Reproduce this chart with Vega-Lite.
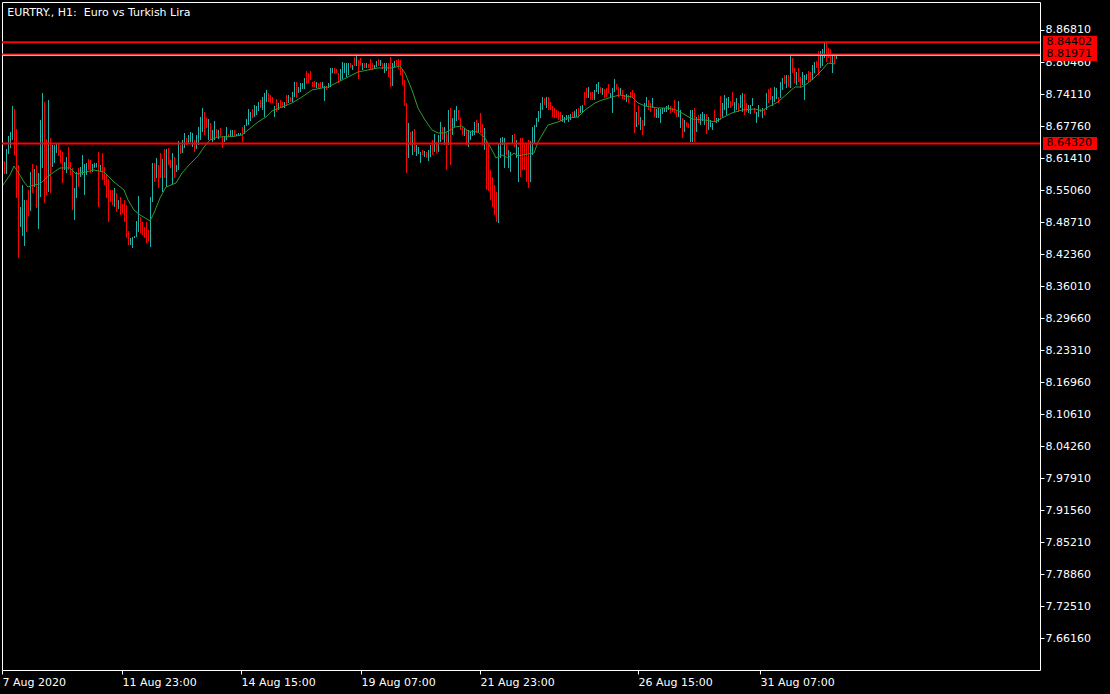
{
"$schema":"https://vega.github.io/schema/vega-lite/v6.json",
"width":1038,"height":668,"autosize":{"type":"none"},
"padding":{"left":2,"top":2,"right":70,"bottom":24},
"background":"#000000",
"config":{"view":{"stroke":"#ffffff","strokeWidth":1},"axis":{"grid":false,"domain":false,"title":null,"labelOverlap":false,"labelSeparation":0}},
"datasets":{
"bars":[
{"i":1,"h":8.6083,"l":8.5826,"d":"dn"},{"i":2,"h":8.6321,"l":8.5826,"d":"up"},{"i":3,"h":8.6579,"l":8.6222,"d":"up"},{"i":4,"h":8.6658,"l":8.6341,"d":"up"},{"i":5,"h":8.7174,"l":8.65,"d":"up"},{"i":6,"h":8.7115,"l":8.6202,"d":"dn"},{"i":7,"h":8.6718,"l":8.535,"d":"dn"},{"i":8,"h":8.6004,"l":8.416,"d":"dn"},{"i":9,"h":8.5171,"l":8.4775,"d":"up"},{"i":10,"h":8.5608,"l":8.4596,"d":"up"},
{"i":11,"h":8.531,"l":8.4398,"d":"up"},{"i":12,"h":8.531,"l":8.4675,"d":"dn"},{"i":13,"h":8.5508,"l":8.4993,"d":"dn"},{"i":14,"h":8.5865,"l":8.5092,"d":"up"},{"i":15,"h":8.6024,"l":8.5449,"d":"dn"},{"i":16,"h":8.5925,"l":8.5568,"d":"up"},{"i":17,"h":8.6004,"l":8.5151,"d":"dn"},{"i":18,"h":8.5845,"l":8.4735,"d":"up"},{"i":19,"h":8.6896,"l":8.537,"d":"up"},{"i":20,"h":8.7432,"l":8.5945,"d":"up"},
{"i":21,"h":8.7253,"l":8.525,"d":"dn"},{"i":22,"h":8.652,"l":8.5409,"d":"dn"},{"i":23,"h":8.7293,"l":8.5469,"d":"up"},{"i":24,"h":8.654,"l":8.5449,"d":"dn"},{"i":25,"h":8.6401,"l":8.5964,"d":"up"},{"i":26,"h":8.6401,"l":8.6044,"d":"up"},{"i":27,"h":8.6421,"l":8.6242,"d":"up"},{"i":28,"h":8.6421,"l":8.6183,"d":"dn"},{"i":29,"h":8.6301,"l":8.6044,"d":"dn"},{"i":30,"h":8.6262,"l":8.5647,"d":"dn"},
{"i":31,"h":8.6063,"l":8.5905,"d":"up"},{"i":32,"h":8.6163,"l":8.5845,"d":"up"},{"i":33,"h":8.6361,"l":8.5905,"d":"dn"},{"i":34,"h":8.6063,"l":8.5806,"d":"dn"},{"i":35,"h":8.5945,"l":8.5112,"d":"dn"},{"i":36,"h":8.5548,"l":8.4913,"d":"up"},{"i":37,"h":8.5865,"l":8.535,"d":"up"},{"i":38,"h":8.5945,"l":8.5568,"d":"dn"},{"i":39,"h":8.5964,"l":8.5766,"d":"up"},{"i":40,"h":8.6202,"l":8.5806,"d":"up"},
{"i":41,"h":8.6024,"l":8.5409,"d":"up"},{"i":42,"h":8.6044,"l":8.5806,"d":"up"},{"i":43,"h":8.6123,"l":8.5905,"d":"dn"},{"i":44,"h":8.6103,"l":8.5845,"d":"dn"},{"i":45,"h":8.6024,"l":8.5865,"d":"up"},{"i":46,"h":8.6044,"l":8.5945,"d":"up"},{"i":47,"h":8.6044,"l":8.5955,"d":"up"},{"i":48,"h":8.6262,"l":8.5171,"d":"dn"},{"i":49,"h":8.6004,"l":8.5865,"d":"up"},{"i":50,"h":8.6242,"l":8.5707,"d":"dn"},
{"i":51,"h":8.5964,"l":8.5608,"d":"dn"},{"i":52,"h":8.5826,"l":8.535,"d":"dn"},{"i":53,"h":8.5726,"l":8.4874,"d":"dn"},{"i":54,"h":8.5508,"l":8.527,"d":"dn"},{"i":55,"h":8.5508,"l":8.5211,"d":"dn"},{"i":56,"h":8.5548,"l":8.5171,"d":"up"},{"i":57,"h":8.5449,"l":8.5072,"d":"dn"},{"i":58,"h":8.531,"l":8.5131,"d":"up"},{"i":59,"h":8.537,"l":8.5013,"d":"dn"},{"i":60,"h":8.5231,"l":8.5052,"d":"dn"},
{"i":61,"h":8.531,"l":8.4874,"d":"dn"},{"i":62,"h":8.5211,"l":8.4556,"d":"dn"},{"i":63,"h":8.4695,"l":8.4418,"d":"dn"},{"i":64,"h":8.4556,"l":8.4418,"d":"up"},{"i":65,"h":8.4576,"l":8.4358,"d":"up"},{"i":66,"h":8.4596,"l":8.4556,"d":"up"},{"i":67,"h":8.4894,"l":8.4576,"d":"up"},{"i":68,"h":8.5389,"l":8.4675,"d":"up"},{"i":69,"h":8.4973,"l":8.4655,"d":"dn"},{"i":70,"h":8.4874,"l":8.4616,"d":"dn"},
{"i":71,"h":8.4775,"l":8.4556,"d":"dn"},{"i":72,"h":8.4874,"l":8.4457,"d":"dn"},{"i":73,"h":8.4715,"l":8.4497,"d":"dn"},{"i":74,"h":8.537,"l":8.4378,"d":"up"},{"i":75,"h":8.6044,"l":8.527,"d":"up"},{"i":76,"h":8.6044,"l":8.5667,"d":"dn"},{"i":77,"h":8.6143,"l":8.5746,"d":"up"},{"i":78,"h":8.6004,"l":8.5548,"d":"dn"},{"i":79,"h":8.6242,"l":8.5746,"d":"dn"},{"i":80,"h":8.6123,"l":8.5469,"d":"up"},
{"i":81,"h":8.6321,"l":8.5746,"d":"dn"},{"i":82,"h":8.6321,"l":8.5568,"d":"up"},{"i":83,"h":8.6341,"l":8.6004,"d":"dn"},{"i":84,"h":8.6103,"l":8.5945,"d":"dn"},{"i":85,"h":8.6242,"l":8.5608,"d":"up"},{"i":86,"h":8.6163,"l":8.5746,"d":"dn"},{"i":87,"h":8.6004,"l":8.5865,"d":"up"},{"i":88,"h":8.648,"l":8.5905,"d":"up"},{"i":89,"h":8.6401,"l":8.6222,"d":"dn"},{"i":90,"h":8.65,"l":8.6242,"d":"up"},
{"i":91,"h":8.6639,"l":8.6341,"d":"up"},{"i":92,"h":8.654,"l":8.6401,"d":"dn"},{"i":93,"h":8.6599,"l":8.644,"d":"up"},{"i":94,"h":8.6658,"l":8.646,"d":"up"},{"i":95,"h":8.6639,"l":8.6361,"d":"up"},{"i":96,"h":8.65,"l":8.6262,"d":"dn"},{"i":97,"h":8.6599,"l":8.6321,"d":"up"},{"i":98,"h":8.6758,"l":8.6401,"d":"up"},{"i":99,"h":8.6956,"l":8.65,"d":"up"},{"i":100,"h":8.7134,"l":8.6658,"d":"up"},
{"i":101,"h":8.7055,"l":8.6599,"d":"dn"},{"i":102,"h":8.6936,"l":8.6738,"d":"dn"},{"i":103,"h":8.6916,"l":8.65,"d":"up"},{"i":104,"h":8.6837,"l":8.65,"d":"dn"},{"i":105,"h":8.6698,"l":8.646,"d":"up"},{"i":106,"h":8.6876,"l":8.65,"d":"up"},{"i":107,"h":8.6718,"l":8.6559,"d":"dn"},{"i":108,"h":8.6698,"l":8.652,"d":"up"},{"i":109,"h":8.6737,"l":8.6579,"d":"dn"},{"i":110,"h":8.6579,"l":8.6341,"d":"dn"},
{"i":111,"h":8.6579,"l":8.646,"d":"up"},{"i":112,"h":8.6757,"l":8.65,"d":"up"},{"i":113,"h":8.6619,"l":8.6559,"d":"dn"},{"i":114,"h":8.6698,"l":8.6559,"d":"up"},{"i":115,"h":8.6698,"l":8.6579,"d":"up"},{"i":116,"h":8.6698,"l":8.6559,"d":"dn"},{"i":117,"h":8.6619,"l":8.6579,"d":"up"},{"i":118,"h":8.6639,"l":8.6579,"d":"up"},{"i":119,"h":8.6639,"l":8.6599,"d":"up"},{"i":120,"h":8.6757,"l":8.646,"d":"dn"},
{"i":121,"h":8.6797,"l":8.6619,"d":"up"},{"i":122,"h":8.6916,"l":8.6777,"d":"up"},{"i":123,"h":8.7115,"l":8.6797,"d":"up"},{"i":124,"h":8.7055,"l":8.6876,"d":"up"},{"i":125,"h":8.7115,"l":8.6936,"d":"dn"},{"i":126,"h":8.7194,"l":8.6956,"d":"up"},{"i":127,"h":8.7174,"l":8.6995,"d":"up"},{"i":128,"h":8.7253,"l":8.7075,"d":"up"},{"i":129,"h":8.7293,"l":8.7134,"d":"dn"},{"i":130,"h":8.7353,"l":8.7095,"d":"up"},
{"i":131,"h":8.7432,"l":8.6956,"d":"up"},{"i":132,"h":8.7491,"l":8.7253,"d":"up"},{"i":133,"h":8.7432,"l":8.7253,"d":"dn"},{"i":134,"h":8.7392,"l":8.7234,"d":"dn"},{"i":135,"h":8.7353,"l":8.7234,"d":"dn"},{"i":136,"h":8.7174,"l":8.6956,"d":"up"},{"i":137,"h":8.7313,"l":8.7055,"d":"dn"},{"i":138,"h":8.7234,"l":8.7095,"d":"up"},{"i":139,"h":8.7293,"l":8.7134,"d":"dn"},{"i":140,"h":8.7253,"l":8.7134,"d":"dn"},
{"i":141,"h":8.7253,"l":8.7134,"d":"up"},{"i":142,"h":8.7392,"l":8.7174,"d":"dn"},{"i":143,"h":8.7392,"l":8.7234,"d":"up"},{"i":144,"h":8.7353,"l":8.7253,"d":"dn"},{"i":145,"h":8.7452,"l":8.7253,"d":"up"},{"i":146,"h":8.765,"l":8.7353,"d":"up"},{"i":147,"h":8.765,"l":8.7333,"d":"dn"},{"i":148,"h":8.7551,"l":8.7432,"d":"up"},{"i":149,"h":8.763,"l":8.7452,"d":"up"},{"i":150,"h":8.763,"l":8.7511,"d":"up"},
{"i":151,"h":8.7729,"l":8.7511,"d":"up"},{"i":152,"h":8.7868,"l":8.761,"d":"dn"},{"i":153,"h":8.7828,"l":8.763,"d":"dn"},{"i":154,"h":8.7868,"l":8.769,"d":"dn"},{"i":155,"h":8.765,"l":8.7551,"d":"dn"},{"i":156,"h":8.767,"l":8.7551,"d":"dn"},{"i":157,"h":8.765,"l":8.7531,"d":"up"},{"i":158,"h":8.763,"l":8.7531,"d":"dn"},{"i":159,"h":8.765,"l":8.7531,"d":"dn"},{"i":160,"h":8.765,"l":8.7531,"d":"up"},
{"i":161,"h":8.7571,"l":8.7273,"d":"up"},{"i":162,"h":8.7571,"l":8.7491,"d":"dn"},{"i":163,"h":8.763,"l":8.7531,"d":"up"},{"i":164,"h":8.7928,"l":8.7551,"d":"up"},{"i":165,"h":8.7928,"l":8.7828,"d":"up"},{"i":166,"h":8.7928,"l":8.7809,"d":"dn"},{"i":167,"h":8.7908,"l":8.7828,"d":"dn"},{"i":168,"h":8.7828,"l":8.763,"d":"dn"},{"i":169,"h":8.7908,"l":8.767,"d":"up"},{"i":170,"h":8.8047,"l":8.771,"d":"up"},
{"i":171,"h":8.8027,"l":8.7828,"d":"up"},{"i":172,"h":8.8027,"l":8.7749,"d":"up"},{"i":173,"h":8.8027,"l":8.7789,"d":"up"},{"i":174,"h":8.8027,"l":8.7928,"d":"dn"},{"i":175,"h":8.7987,"l":8.7888,"d":"up"},{"i":176,"h":8.8146,"l":8.7967,"d":"dn"},{"i":177,"h":8.8186,"l":8.7967,"d":"up"},{"i":178,"h":8.8086,"l":8.771,"d":"dn"},{"i":179,"h":8.8126,"l":8.7987,"d":"dn"},{"i":180,"h":8.8027,"l":8.7888,"d":"up"},
{"i":181,"h":8.8027,"l":8.7928,"d":"dn"},{"i":182,"h":8.8027,"l":8.7928,"d":"up"},{"i":183,"h":8.8007,"l":8.7928,"d":"dn"},{"i":184,"h":8.8106,"l":8.7908,"d":"dn"},{"i":185,"h":8.8027,"l":8.7888,"d":"dn"},{"i":186,"h":8.7987,"l":8.7908,"d":"up"},{"i":187,"h":8.8067,"l":8.7947,"d":"up"},{"i":188,"h":8.8106,"l":8.7967,"d":"dn"},{"i":189,"h":8.8086,"l":8.7967,"d":"up"},{"i":190,"h":8.8027,"l":8.7908,"d":"dn"},
{"i":191,"h":8.8027,"l":8.7828,"d":"up"},{"i":192,"h":8.8027,"l":8.7868,"d":"up"},{"i":193,"h":8.8027,"l":8.7749,"d":"dn"},{"i":194,"h":8.8146,"l":8.7551,"d":"dn"},{"i":195,"h":8.8027,"l":8.7571,"d":"up"},{"i":196,"h":8.8067,"l":8.7947,"d":"up"},{"i":197,"h":8.8086,"l":8.7967,"d":"dn"},{"i":198,"h":8.8106,"l":8.7908,"d":"dn"},{"i":199,"h":8.8086,"l":8.7789,"d":"dn"},{"i":200,"h":8.7888,"l":8.759,"d":"dn"},
{"i":201,"h":8.769,"l":8.7174,"d":"dn"},{"i":202,"h":8.7234,"l":8.5845,"d":"dn"},{"i":203,"h":8.6837,"l":8.6143,"d":"up"},{"i":204,"h":8.6658,"l":8.6401,"d":"dn"},{"i":205,"h":8.6678,"l":8.6202,"d":"up"},{"i":206,"h":8.6718,"l":8.6262,"d":"dn"},{"i":207,"h":8.6401,"l":8.6183,"d":"up"},{"i":208,"h":8.6361,"l":8.6222,"d":"up"},{"i":209,"h":8.6262,"l":8.6044,"d":"up"},{"i":210,"h":8.6301,"l":8.6202,"d":"dn"},
{"i":211,"h":8.6282,"l":8.6163,"d":"up"},{"i":212,"h":8.6262,"l":8.6143,"d":"dn"},{"i":213,"h":8.6301,"l":8.6083,"d":"up"},{"i":214,"h":8.6401,"l":8.6163,"d":"up"},{"i":215,"h":8.65,"l":8.6202,"d":"dn"},{"i":216,"h":8.6619,"l":8.6262,"d":"up"},{"i":217,"h":8.646,"l":8.6242,"d":"dn"},{"i":218,"h":8.6599,"l":8.6262,"d":"up"},{"i":219,"h":8.6857,"l":8.646,"d":"up"},{"i":220,"h":8.6757,"l":8.65,"d":"dn"},
{"i":221,"h":8.6757,"l":8.6401,"d":"up"},{"i":222,"h":8.6639,"l":8.5905,"d":"dn"},{"i":223,"h":8.7095,"l":8.6401,"d":"up"},{"i":224,"h":8.7134,"l":8.6004,"d":"dn"},{"i":225,"h":8.6936,"l":8.6599,"d":"up"},{"i":226,"h":8.7095,"l":8.6757,"d":"up"},{"i":227,"h":8.7174,"l":8.6876,"d":"up"},{"i":228,"h":8.7095,"l":8.6896,"d":"dn"},{"i":229,"h":8.6936,"l":8.6698,"d":"dn"},{"i":230,"h":8.6757,"l":8.6599,"d":"dn"},
{"i":231,"h":8.6737,"l":8.6579,"d":"up"},{"i":232,"h":8.6698,"l":8.6401,"d":"dn"},{"i":233,"h":8.6698,"l":8.6361,"d":"up"},{"i":234,"h":8.6658,"l":8.65,"d":"up"},{"i":235,"h":8.6698,"l":8.6579,"d":"up"},{"i":236,"h":8.6857,"l":8.6599,"d":"up"},{"i":237,"h":8.6896,"l":8.6639,"d":"dn"},{"i":238,"h":8.6837,"l":8.6639,"d":"up"},{"i":239,"h":8.7035,"l":8.6639,"d":"dn"},{"i":240,"h":8.6817,"l":8.6401,"d":"dn"},
{"i":241,"h":8.6737,"l":8.6301,"d":"up"},{"i":242,"h":8.648,"l":8.5508,"d":"dn"},{"i":243,"h":8.6401,"l":8.5489,"d":"dn"},{"i":244,"h":8.5905,"l":8.531,"d":"dn"},{"i":245,"h":8.5766,"l":8.5171,"d":"dn"},{"i":246,"h":8.5608,"l":8.5013,"d":"dn"},{"i":247,"h":8.5469,"l":8.4874,"d":"dn"},{"i":248,"h":8.644,"l":8.4854,"d":"up"},{"i":249,"h":8.654,"l":8.6143,"d":"up"},{"i":250,"h":8.6559,"l":8.6401,"d":"up"},
{"i":251,"h":8.654,"l":8.5945,"d":"up"},{"i":252,"h":8.644,"l":8.6202,"d":"dn"},{"i":253,"h":8.6301,"l":8.5945,"d":"up"},{"i":254,"h":8.6262,"l":8.5865,"d":"up"},{"i":255,"h":8.6599,"l":8.644,"d":"up"},{"i":256,"h":8.6619,"l":8.6361,"d":"dn"},{"i":257,"h":8.65,"l":8.6143,"d":"up"},{"i":258,"h":8.6361,"l":8.5667,"d":"up"},{"i":259,"h":8.654,"l":8.5766,"d":"dn"},{"i":260,"h":8.654,"l":8.5905,"d":"dn"},
{"i":261,"h":8.644,"l":8.5905,"d":"dn"},{"i":262,"h":8.644,"l":8.5667,"d":"dn"},{"i":263,"h":8.65,"l":8.5548,"d":"dn"},{"i":264,"h":8.648,"l":8.5667,"d":"up"},{"i":265,"h":8.6757,"l":8.6202,"d":"up"},{"i":266,"h":8.6797,"l":8.644,"d":"up"},{"i":267,"h":8.6936,"l":8.6757,"d":"up"},{"i":268,"h":8.7075,"l":8.6857,"d":"up"},{"i":269,"h":8.7234,"l":8.6936,"d":"up"},{"i":270,"h":8.7353,"l":8.7095,"d":"up"},
{"i":271,"h":8.7333,"l":8.7194,"d":"dn"},{"i":272,"h":8.7353,"l":8.7134,"d":"up"},{"i":273,"h":8.7353,"l":8.7095,"d":"dn"},{"i":274,"h":8.7253,"l":8.7095,"d":"dn"},{"i":275,"h":8.7174,"l":8.6956,"d":"dn"},{"i":276,"h":8.7134,"l":8.6936,"d":"dn"},{"i":277,"h":8.7095,"l":8.6936,"d":"dn"},{"i":278,"h":8.7075,"l":8.6896,"d":"dn"},{"i":279,"h":8.7055,"l":8.6876,"d":"dn"},{"i":280,"h":8.6995,"l":8.6857,"d":"up"},
{"i":281,"h":8.6956,"l":8.6837,"d":"up"},{"i":282,"h":8.6995,"l":8.6896,"d":"up"},{"i":283,"h":8.6995,"l":8.6857,"d":"up"},{"i":284,"h":8.7015,"l":8.6896,"d":"up"},{"i":285,"h":8.7055,"l":8.6936,"d":"dn"},{"i":286,"h":8.7075,"l":8.6936,"d":"up"},{"i":287,"h":8.7115,"l":8.6956,"d":"up"},{"i":288,"h":8.7134,"l":8.6936,"d":"dn"},{"i":289,"h":8.7174,"l":8.7035,"d":"up"},{"i":290,"h":8.7194,"l":8.7035,"d":"up"},
{"i":291,"h":8.7452,"l":8.7194,"d":"dn"},{"i":292,"h":8.7531,"l":8.7333,"d":"dn"},{"i":293,"h":8.7551,"l":8.7333,"d":"up"},{"i":294,"h":8.7452,"l":8.7293,"d":"dn"},{"i":295,"h":8.7452,"l":8.7293,"d":"dn"},{"i":296,"h":8.7491,"l":8.7293,"d":"up"},{"i":297,"h":8.761,"l":8.7452,"d":"up"},{"i":298,"h":8.765,"l":8.7412,"d":"up"},{"i":299,"h":8.7551,"l":8.7432,"d":"dn"},{"i":300,"h":8.7531,"l":8.7392,"d":"up"},
{"i":301,"h":8.7511,"l":8.7333,"d":"dn"},{"i":302,"h":8.7531,"l":8.7353,"d":"dn"},{"i":303,"h":8.761,"l":8.7432,"d":"dn"},{"i":304,"h":8.7432,"l":8.7333,"d":"up"},{"i":305,"h":8.7531,"l":8.7035,"d":"up"},{"i":306,"h":8.771,"l":8.7452,"d":"up"},{"i":307,"h":8.761,"l":8.7491,"d":"dn"},{"i":308,"h":8.7551,"l":8.7353,"d":"dn"},{"i":309,"h":8.7531,"l":8.7392,"d":"up"},{"i":310,"h":8.7491,"l":8.7313,"d":"dn"},
{"i":311,"h":8.7392,"l":8.7293,"d":"dn"},{"i":312,"h":8.7412,"l":8.7253,"d":"up"},{"i":313,"h":8.7392,"l":8.7234,"d":"dn"},{"i":314,"h":8.7452,"l":8.7333,"d":"dn"},{"i":315,"h":8.7491,"l":8.7353,"d":"dn"},{"i":316,"h":8.7432,"l":8.6639,"d":"dn"},{"i":317,"h":8.7055,"l":8.6757,"d":"up"},{"i":318,"h":8.7194,"l":8.6797,"d":"dn"},{"i":319,"h":8.6956,"l":8.6698,"d":"up"},{"i":320,"h":8.6896,"l":8.6599,"d":"dn"},
{"i":321,"h":8.7234,"l":8.6777,"d":"up"},{"i":322,"h":8.7353,"l":8.7174,"d":"up"},{"i":323,"h":8.7293,"l":8.7095,"d":"dn"},{"i":324,"h":8.7234,"l":8.7055,"d":"dn"},{"i":325,"h":8.7333,"l":8.7134,"d":"up"},{"i":326,"h":8.7134,"l":8.6956,"d":"dn"},{"i":327,"h":8.7115,"l":8.6936,"d":"up"},{"i":328,"h":8.7134,"l":8.6936,"d":"up"},{"i":329,"h":8.7115,"l":8.6837,"d":"up"},{"i":330,"h":8.7134,"l":8.7015,"d":"up"},
{"i":331,"h":8.7134,"l":8.7055,"d":"up"},{"i":332,"h":8.7174,"l":8.7055,"d":"up"},{"i":333,"h":8.7194,"l":8.7095,"d":"up"},{"i":334,"h":8.7174,"l":8.7035,"d":"dn"},{"i":335,"h":8.7134,"l":8.7055,"d":"dn"},{"i":336,"h":8.7293,"l":8.7035,"d":"dn"},{"i":337,"h":8.7075,"l":8.6956,"d":"dn"},{"i":338,"h":8.7273,"l":8.6956,"d":"up"},{"i":339,"h":8.7095,"l":8.6737,"d":"up"},{"i":340,"h":8.6936,"l":8.654,"d":"dn"},
{"i":341,"h":8.6896,"l":8.6658,"d":"up"},{"i":342,"h":8.6857,"l":8.6757,"d":"dn"},{"i":343,"h":8.6837,"l":8.6737,"d":"dn"},{"i":344,"h":8.7095,"l":8.646,"d":"up"},{"i":345,"h":8.7095,"l":8.646,"d":"up"},{"i":346,"h":8.7134,"l":8.646,"d":"dn"},{"i":347,"h":8.6956,"l":8.6658,"d":"up"},{"i":348,"h":8.6995,"l":8.6837,"d":"dn"},{"i":349,"h":8.7015,"l":8.6797,"d":"up"},{"i":350,"h":8.7055,"l":8.6876,"d":"up"},
{"i":351,"h":8.7015,"l":8.6797,"d":"up"},{"i":352,"h":8.7015,"l":8.6619,"d":"dn"},{"i":353,"h":8.6956,"l":8.6698,"d":"up"},{"i":354,"h":8.6896,"l":8.6757,"d":"up"},{"i":355,"h":8.6837,"l":8.6698,"d":"up"},{"i":356,"h":8.7095,"l":8.6857,"d":"dn"},{"i":357,"h":8.6936,"l":8.6837,"d":"up"},{"i":358,"h":8.6936,"l":8.6857,"d":"up"},{"i":359,"h":8.7372,"l":8.6896,"d":"dn"},{"i":360,"h":8.7234,"l":8.6956,"d":"up"},
{"i":361,"h":8.7392,"l":8.7095,"d":"up"},{"i":362,"h":8.7333,"l":8.6995,"d":"up"},{"i":363,"h":8.7353,"l":8.7134,"d":"up"},{"i":364,"h":8.7273,"l":8.7134,"d":"dn"},{"i":365,"h":8.7452,"l":8.7174,"d":"dn"},{"i":366,"h":8.7253,"l":8.7055,"d":"up"},{"i":367,"h":8.7333,"l":8.7095,"d":"up"},{"i":368,"h":8.7234,"l":8.7055,"d":"dn"},{"i":369,"h":8.7392,"l":8.7134,"d":"up"},{"i":370,"h":8.7432,"l":8.7055,"d":"up"},
{"i":371,"h":8.7412,"l":8.6995,"d":"dn"},{"i":372,"h":8.7234,"l":8.7055,"d":"dn"},{"i":373,"h":8.7194,"l":8.7035,"d":"up"},{"i":374,"h":8.7194,"l":8.7015,"d":"up"},{"i":375,"h":8.7333,"l":8.7174,"d":"up"},{"i":376,"h":8.7134,"l":8.7035,"d":"dn"},{"i":377,"h":8.7055,"l":8.6837,"d":"up"},{"i":378,"h":8.7194,"l":8.6956,"d":"up"},{"i":379,"h":8.7115,"l":8.7055,"d":"dn"},{"i":380,"h":8.7134,"l":8.6936,"d":"up"},
{"i":381,"h":8.7115,"l":8.6995,"d":"dn"},{"i":382,"h":8.7432,"l":8.7095,"d":"up"},{"i":383,"h":8.7511,"l":8.7234,"d":"dn"},{"i":384,"h":8.7531,"l":8.7293,"d":"dn"},{"i":385,"h":8.7372,"l":8.7174,"d":"up"},{"i":386,"h":8.7551,"l":8.7253,"d":"up"},{"i":387,"h":8.7531,"l":8.7313,"d":"up"},{"i":388,"h":8.7353,"l":8.7234,"d":"dn"},{"i":389,"h":8.765,"l":8.7333,"d":"up"},{"i":390,"h":8.7729,"l":8.7491,"d":"up"},
{"i":391,"h":8.7789,"l":8.761,"d":"dn"},{"i":392,"h":8.7789,"l":8.7531,"d":"up"},{"i":393,"h":8.7789,"l":8.7551,"d":"dn"},{"i":394,"h":8.8166,"l":8.7531,"d":"up"},{"i":395,"h":8.8126,"l":8.7828,"d":"dn"},{"i":396,"h":8.7928,"l":8.763,"d":"dn"},{"i":397,"h":8.7848,"l":8.759,"d":"up"},{"i":398,"h":8.7928,"l":8.765,"d":"dn"},{"i":399,"h":8.7749,"l":8.7531,"d":"dn"},{"i":400,"h":8.7848,"l":8.759,"d":"up"},
{"i":401,"h":8.7789,"l":8.7293,"d":"up"},{"i":402,"h":8.7809,"l":8.769,"d":"up"},{"i":403,"h":8.7868,"l":8.765,"d":"dn"},{"i":404,"h":8.7848,"l":8.765,"d":"dn"},{"i":405,"h":8.7987,"l":8.769,"d":"up"},{"i":406,"h":8.8047,"l":8.7828,"d":"up"},{"i":407,"h":8.8067,"l":8.7928,"d":"dn"},{"i":408,"h":8.8265,"l":8.7789,"d":"dn"},{"i":409,"h":8.8265,"l":8.7928,"d":"up"},{"i":410,"h":8.8304,"l":8.7967,"d":"up"},
{"i":411,"h":8.8423,"l":8.8126,"d":"up"},{"i":412,"h":8.8423,"l":8.8047,"d":"dn"},{"i":413,"h":8.8324,"l":8.8126,"d":"dn"},{"i":414,"h":8.8304,"l":8.8027,"d":"dn"},{"i":415,"h":8.8186,"l":8.7828,"d":"up"},{"i":416,"h":8.8186,"l":8.8007,"d":"dn"},{"i":417,"h":8.8186,"l":8.8106,"d":"up"}
],
"ma":[
{"i":0.5,"ma":8.5607},{"i":4,"ma":8.5806},{"i":6,"ma":8.5984},{"i":8,"ma":8.5865},{"i":11,"ma":8.5667},{"i":13,"ma":8.5568},{"i":16,"ma":8.5607},{"i":19,"ma":8.5627},{"i":22,"ma":8.5746},{"i":26,"ma":8.5865},{"i":29,"ma":8.5945},{"i":34,"ma":8.5945},{"i":37,"ma":8.5826},{"i":42,"ma":8.5865},{"i":46,"ma":8.5905},{"i":51,"ma":8.5865},{"i":56,"ma":8.5667},{"i":61,"ma":8.5508},{"i":63,"ma":8.531},{"i":66,"ma":8.5112},{"i":69,"ma":8.5013},{"i":74,"ma":8.4894},{"i":76,"ma":8.5052},{"i":79,"ma":8.535},{"i":82,"ma":8.5568},{"i":87,"ma":8.5647},{"i":90,"ma":8.5846},{"i":94,"ma":8.6024},{"i":98,"ma":8.6183},{"i":101,"ma":8.6361},{"i":104,"ma":8.65},{"i":108,"ma":8.6559},{"i":115,"ma":8.6567},{"i":120,"ma":8.6599},{"i":123,"ma":8.6698},{"i":128,"ma":8.6857},{"i":132,"ma":8.6956},{"i":135,"ma":8.7075},{"i":140,"ma":8.7154},{"i":145,"ma":8.7234},{"i":150,"ma":8.7353},{"i":155,"ma":8.7491},{"i":160,"ma":8.7531},{"i":163,"ma":8.7551},{"i":168,"ma":8.765},{"i":173,"ma":8.7749},{"i":178,"ma":8.7848},{"i":183,"ma":8.7888},{"i":188,"ma":8.7928},{"i":195,"ma":8.7928},{"i":199,"ma":8.7967},{"i":201.5,"ma":8.7828},{"i":205,"ma":8.7491},{"i":208,"ma":8.7134},{"i":211.5,"ma":8.6896},{"i":215,"ma":8.6698},{"i":218,"ma":8.6639},{"i":221.5,"ma":8.6639},{"i":226.5,"ma":8.6758},{"i":230,"ma":8.6778},{"i":233,"ma":8.6678},{"i":238,"ma":8.6658},{"i":241.5,"ma":8.6539},{"i":245,"ma":8.6301},{"i":247,"ma":8.6143},{"i":250,"ma":8.6202},{"i":253,"ma":8.6143},{"i":256,"ma":8.6242},{"i":258,"ma":8.6183},{"i":263,"ma":8.6222},{"i":266,"ma":8.6242},{"i":268,"ma":8.646},{"i":273,"ma":8.6797},{"i":278,"ma":8.6857},{"i":283,"ma":8.6936},{"i":288,"ma":8.6956},{"i":291.5,"ma":8.7095},{"i":296.5,"ma":8.7234},{"i":300,"ma":8.7293},{"i":305,"ma":8.7353},{"i":309,"ma":8.7392},{"i":311.5,"ma":8.7372},{"i":315,"ma":8.7353},{"i":318,"ma":8.7234},{"i":321.5,"ma":8.7174},{"i":328,"ma":8.7134},{"i":333,"ma":8.7134},{"i":337,"ma":8.7095},{"i":340,"ma":8.7035},{"i":345,"ma":8.6916},{"i":351.5,"ma":8.6896},{"i":356.5,"ma":8.6857},{"i":360,"ma":8.6936},{"i":365,"ma":8.7035},{"i":370,"ma":8.7095},{"i":376.5,"ma":8.7115},{"i":380,"ma":8.7075},{"i":383,"ma":8.7154},{"i":388,"ma":8.7253},{"i":393,"ma":8.7432},{"i":396.5,"ma":8.7551},{"i":400,"ma":8.7551},{"i":403,"ma":8.763},{"i":406.5,"ma":8.7749},{"i":410,"ma":8.7888},{"i":413,"ma":8.8027},{"i":416.5,"ma":8.8007}
],
"levels":[{"v":8.84402},{"v":8.81971},{"v":8.6432}],
"bid":[{"v":8.8179}]
},
"layer":[
{"data":{"name":"bars"},"mark":{"type":"rule","strokeWidth":1,"xOffset":0.5},
"encoding":{
"x":{"field":"i","type":"quantitative","title":null,"scale":{"domain":[0,519],"nice":false,"zero":false},
"axis":{"values":[0,60,119.5,179.5,239,318,379],"tickCount":40,"labelExpr":"datum.value == 0 ? '7 Aug 2020' : datum.value == 60 ? '11 Aug 23:00' : datum.value == 119.5 ? '14 Aug 15:00' : datum.value == 179.5 ? '19 Aug 07:00' : datum.value == 239 ? '21 Aug 23:00' : datum.value == 318 ? '26 Aug 15:00' : '31 Aug 07:00'","tickColor":"#ffffff","tickSize":4,"labelColor":"#ffffff","labelFont":"DejaVu Sans","labelFontSize":11,"labelAlign":"left","labelBaseline":"top","labelPadding":2,"labelFlush":false,"labelOverlap":false}},
"y":{"field":"l","type":"quantitative","title":null,"scale":{"domain":[7.599,8.9236],"nice":false,"zero":false},
"axis":{"orient":"right","values":[8.8681,8.8046,8.7411,8.6776,8.6141,8.5506,8.4871,8.4236,8.3601,8.2966,8.2331,8.1696,8.1061,8.0426,7.9791,7.9156,7.8521,7.7886,7.7251,7.6616],"tickCount":40,"format":".5f","tickColor":"#ffffff","tickSize":4,"labelColor":"#ffffff","labelFont":"DejaVu Sans","labelFontSize":11,"labelPadding":1,"labelFlush":false,"labelOverlap":false,"labelSeparation":0}},
"y2":{"field":"h"},
"color":{"field":"d","type":"nominal","scale":{"domain":["up","dn"],"range":["#20b2aa","#ff0000"]},"legend":null}
}},
{"data":{"name":"ma"},"mark":{"type":"line","color":"#2e9b2e","strokeWidth":1,"interpolate":"linear"},
"encoding":{
"x":{"field":"i","type":"quantitative","title":null,"scale":{"domain":[0,519],"nice":false,"zero":false}},
"y":{"field":"ma","type":"quantitative","title":null,"scale":{"domain":[7.599,8.9236],"nice":false,"zero":false}}
}},
{"data":{"name":"levels"},"mark":{"type":"rule","color":"#ff0000","strokeWidth":2},
"encoding":{"y":{"field":"v","type":"quantitative","title":null,"scale":{"domain":[7.599,8.9236],"nice":false,"zero":false}}}},
{"data":{"name":"bid"},"mark":{"type":"rule","color":"#e0e0e0","strokeWidth":1},
"encoding":{"y":{"field":"v","type":"quantitative","title":null,"scale":{"domain":[7.599,8.9236],"nice":false,"zero":false}}}},
{"data":{"name":"levels"},"mark":{"type":"rule","color":"#ff0000","strokeWidth":13,"strokeCap":"butt","clip":false},
"encoding":{
"x":{"datum":520.5,"type":"quantitative","scale":{"domain":[0,519],"nice":false,"zero":false}},
"x2":{"datum":547.5},
"y":{"field":"v","type":"quantitative","title":null,"scale":{"domain":[7.599,8.9236],"nice":false,"zero":false}}
}},
{"data":{"name":"levels"},"mark":{"type":"text","color":"#000000","font":"DejaVu Sans","fontSize":11,"align":"left","baseline":"middle","clip":false},
"encoding":{
"x":{"datum":522.3,"type":"quantitative","scale":{"domain":[0,519],"nice":false,"zero":false}},
"y":{"field":"v","type":"quantitative","title":null,"scale":{"domain":[7.599,8.9236],"nice":false,"zero":false}},
"text":{"field":"v","type":"quantitative","format":".5f"}
}},
{"data":{"values":[{"t":"EURTRY., H1: \u00a0Euro vs Turkish Lira"}]},"mark":{"type":"text","color":"#ffffff","font":"DejaVu Sans","fontSize":11,"align":"left","baseline":"alphabetic"},
"encoding":{
"x":{"datum":2.65,"type":"quantitative","scale":{"domain":[0,519],"nice":false,"zero":false}},
"y":{"datum":8.8959,"type":"quantitative","scale":{"domain":[7.599,8.9236],"nice":false,"zero":false}},
"text":{"field":"t"}
}}
]
}
